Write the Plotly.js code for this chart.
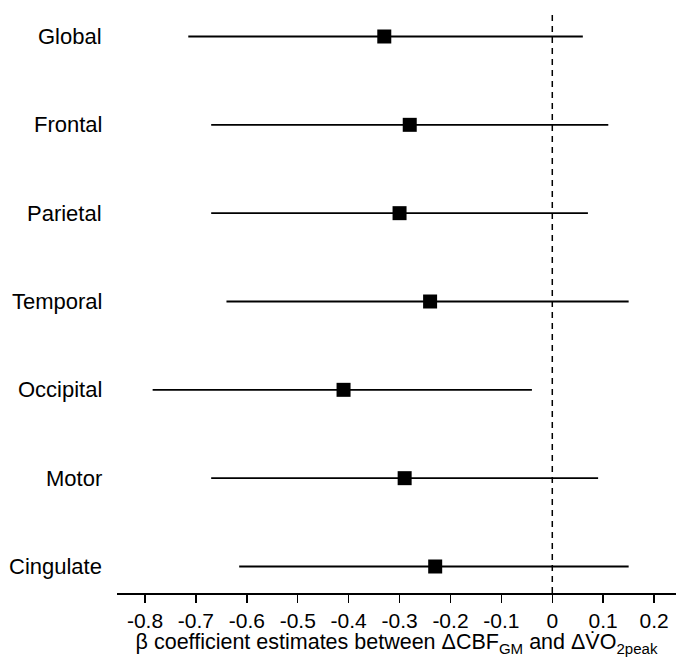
<!DOCTYPE html>
<html>
<head>
<meta charset="utf-8">
<script src="https://cdn.plot.ly/plotly-3.0.1.min.js"></script>
<style>html,body{margin:0;padding:0;background:#fff;}</style>
</head>
<body>
<div id="chart" style="width:676px;height:657px;"></div>
<script>
const regions = ["Global", "Frontal", "Parietal", "Temporal", "Occipital", "Motor", "Cingulate"];
const estimates = [-0.33, -0.28, -0.30, -0.24, -0.41, -0.29, -0.23];
const lowerCI = [-0.715, -0.67, -0.67, -0.64, -0.785, -0.67, -0.615];
const upperCI = [0.06, 0.11, 0.07, 0.15, -0.04, 0.09, 0.15];
const xTicks = [-0.8, -0.7, -0.6, -0.5, -0.4, -0.3, -0.2, -0.1, 0, 0.1, 0.2];
const xTickLabels = ["-0.8", "-0.7", "-0.6", "-0.5", "-0.4", "-0.3", "-0.2", "-0.1", "0", "0.1", "0.2"];

const font = "Liberation Sans, Arial, sans-serif";

const trace = {
  type: "scatter",
  mode: "markers",
  x: estimates,
  y: regions,
  marker: {symbol: "square", size: 14, color: "#000"},
  error_x: {
    type: "data",
    symmetric: false,
    array: upperCI.map((u, i) => u - estimates[i]),
    arrayminus: lowerCI.map((l, i) => estimates[i] - l),
    color: "#000",
    thickness: 1.8,
    width: 0
  },
  hoverinfo: "x+y",
  showlegend: false
};

const annotations = regions.map(r => ({
  x: -0.0233, xref: "paper", xanchor: "right",
  y: r, yref: "y", yanchor: "middle",
  text: r, showarrow: false,
  font: {family: font, size: 22, color: "#000"}
}));

const layout = {
  width: 676, height: 657,
  margin: {l: 117, r: 0, t: 10, b: 64},
  paper_bgcolor: "#fff", plot_bgcolor: "#fff",
  font: {family: font, color: "#000"},
  xaxis: {
    range: [-0.855, 0.243],
    tickvals: xTicks, ticktext: xTickLabels,
    showgrid: false, zeroline: false,
    showline: true, linecolor: "#000", linewidth: 1.5,
    ticks: "outside", ticklen: 8, tickwidth: 1.5, tickcolor: "#000",
    tickfont: {family: font, size: 21, color: "#000"},
    title: {
      text: "β coefficient estimates between ΔCBF<sub>GM</sub> and ΔV\u0307O<sub>2peak</sub>",
      font: {family: font, size: 21.5, color: "#000"},
      standoff: 2
    }
  },
  yaxis: {
    type: "category",
    categoryarray: regions, categoryorder: "array",
    range: [6.3, -0.3],
    showgrid: false, zeroline: false, showline: false,
    showticklabels: false, ticks: ""
  },
  shapes: [{
    type: "line", xref: "x", yref: "paper",
    x0: 0, x1: 0, y0: 0, y1: 1,
    line: {color: "#000", width: 1.5, dash: "6px,5px"}
  }],
  annotations: annotations
};

Plotly.newPlot("chart", [trace], layout, {displayModeBar: false, staticPlot: true});
</script>
</body>
</html>
